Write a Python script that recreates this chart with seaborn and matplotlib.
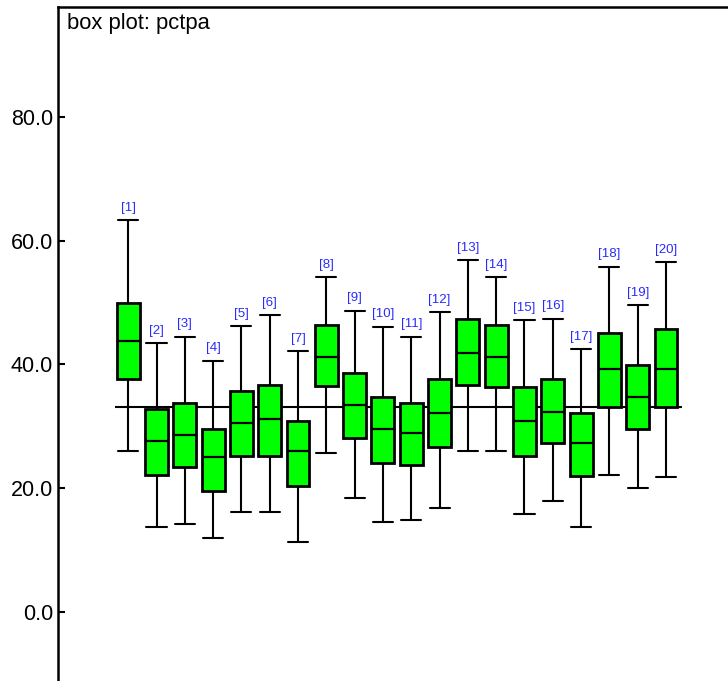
import matplotlib
matplotlib.use("Agg")
import matplotlib.pyplot as plt
import seaborn as sns
import pandas as pd

# Five-number summaries per group (min, Q1, median, Q3, max)
groups = [f"[{i}]" for i in range(1, 21)]
lows = [26.0, 13.8, 14.3, 12.0, 16.2, 16.2, 11.3, 25.7, 18.5, 14.6,
        14.9, 16.9, 26.0, 26.0, 15.9, 17.9, 13.7, 22.1, 20.1, 21.8]
q1s = [37.6, 22.1, 23.4, 19.5, 25.3, 25.3, 20.3, 36.5, 28.2, 24.1,
       23.7, 26.6, 36.7, 36.4, 25.3, 27.3, 22.0, 33.2, 29.5, 33.2]
medians = [43.8, 27.6, 28.6, 25.1, 30.6, 31.2, 26.0, 41.2, 33.5, 29.5,
           28.9, 32.2, 41.8, 41.2, 30.8, 32.4, 27.3, 39.2, 34.7, 39.2]
q3s = [49.9, 32.8, 33.7, 29.5, 35.7, 36.7, 30.8, 46.4, 38.6, 34.7,
       33.7, 37.6, 47.4, 46.4, 36.3, 37.6, 32.1, 45.1, 39.9, 45.8]
highs = [63.3, 43.5, 44.5, 40.6, 46.2, 48.0, 42.2, 54.1, 48.7, 46.1,
         44.5, 48.4, 56.8, 54.1, 47.1, 47.4, 42.5, 55.8, 49.6, 56.5]
overall_mean = 33.1
y_ticks = [0.0, 20.0, 40.0, 60.0, 80.0]

# Long-form table: five values per group reproduce the quartiles exactly
rows = []
for g, a, b, c, d, e in zip(groups, lows, q1s, medians, q3s, highs):
    for v in (a, b, c, d, e):
        rows.append({"group": g, "pctpa": v})
df = pd.DataFrame(rows)

sns.set_theme(style="white")
plt.rcParams["font.family"] = ["Liberation Sans", "DejaVu Sans"]

fig = plt.figure(figsize=(7.28, 6.81), dpi=100)
ax = fig.add_axes([58 / 728, 0.0, 1 - 58 / 728, 1 - 7 / 681])

ax.hlines(overall_mean, -0.47, 19.57, color="black", linewidth=1.5, zorder=1)

sns.boxplot(data=df, x="group", y="pctpa", order=groups, ax=ax,
            color="#00ff00", saturation=1, width=0.81, whis=(0, 100),
            linecolor="black", linewidth=1.5, showfliers=False,
            capwidths=0.71,
            boxprops={"linewidth": 2.0, "zorder": 3},
            medianprops={"linewidth": 1.6, "color": "black", "zorder": 4},
            whiskerprops={"linewidth": 1.5, "zorder": 2},
            capprops={"linewidth": 1.5, "zorder": 2})

for i, (g, hi) in enumerate(zip(groups, highs)):
    ax.annotate(g, (i, hi), xytext=(0, 4.5), textcoords="offset points",
                ha="center", va="bottom", fontsize=9.5, color="#2a2aff")

ax.set_xlim(-2.48, 21.19)
ax.set_ylim(-11.1, 97.7)
ax.set_yticks(y_ticks)
ax.set_yticklabels([f"{t:.1f}" for t in y_ticks])
ax.set_xticks([])
ax.set_xlabel("")
ax.set_ylabel("")
ax.tick_params(axis="y", direction="in", length=5, width=1.5,
               labelsize=15.5, colors="black", left=True, pad=3.5)

for side in ("right", "bottom"):
    ax.spines[side].set_visible(False)
for side in ("left", "top"):
    ax.spines[side].set_visible(True)
    ax.spines[side].set_color("black")
    ax.spines[side].set_linewidth(1.8)

ax.text(67 / 728, 1 - 24 / 681, "box plot: pctpa", transform=fig.transFigure,
        ha="left", va="center", fontsize=15.8, color="black")

fig.savefig("out.png", dpi=100)
